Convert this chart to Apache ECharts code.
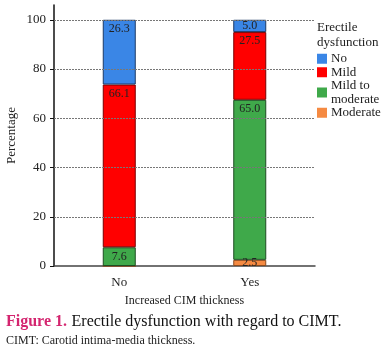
<!DOCTYPE html>
<html>
<head>
<meta charset="utf-8">
<script src="https://cdn.jsdelivr.net/npm/echarts@6/dist/echarts.min.js"></script>
<style>
  html, body { margin: 0; padding: 0; background: #fff; }
  #chart { width: 391px; height: 353px; }
</style>
</head>
<body>
<div id="chart"></div>
<script>
const categories = ['No', 'Yes'];
const moderate = [0, 2.5];
const mildToModerate = [7.6, 65.0];
const mild = [66.1, 27.5];
const noDysfunction = [26.3, 5.0];
const yTicks = [0, 20, 40, 60, 80, 100];

const serif = '"Liberation Serif", "DejaVu Serif", serif';

function bar(name, data, color, border) {
  return {
    name: name,
    type: 'bar',
    stack: 'total',
    barWidth: 33,
    z: 3,
    // small segments get their label centred, larger ones at the top
    data: data.map(v => v < 10 ? { value: v, label: { position: 'inside' } } : v),
    itemStyle: { color: color, borderColor: border, borderWidth: 1 },
    label: {
      show: true,
      position: 'insideTop',
      distance: 3,
      fontFamily: serif,
      fontSize: 12,
      color: '#222',
      formatter: p => p.value ? p.value.toFixed(1) : ''
    }
  };
}

const chart = echarts.init(document.getElementById('chart'));
chart.setOption({
  animation: false,
  textStyle: { fontFamily: serif },
  grid: { left: 54, right: 76, top: 5, bottom: 87, outerBoundsMode: 'none', containLabel: false },
  title: [{
    text: 'Erectile\ndysfunction',
    left: 317, top: 20,
    padding: 0,
    textStyle: { fontFamily: serif, fontSize: 13, fontWeight: 'normal', color: '#222', lineHeight: 15 }
  }, {
    text: '{a|Figure 1.} {b|Erectile dysfunction with regard to CIMT.}',
    left: 6, top: 313,
    padding: 0,
    textStyle: {
      fontWeight: 'normal',
      rich: {
        a: { fontFamily: serif, fontSize: 16, fontWeight: 'bold', color: '#d4256f' },
        b: { fontFamily: serif, fontSize: 16, fontWeight: 'normal', color: '#111' }
      }
    }
  }, {
    text: 'CIMT: Carotid intima-media thickness.',
    left: 6, top: 335,
    padding: 0,
    textStyle: { fontFamily: serif, fontSize: 12, fontWeight: 'normal', color: '#222' }
  }],
  legend: {
    orient: 'vertical',
    left: 317, top: 52,
    padding: 0,
    icon: 'rect',
    itemWidth: 10, itemHeight: 10,
    itemGap: 0,
    itemStyle: { borderWidth: 0 },
    data: ['No', 'Mild', 'Mild to moderate', 'Moderate'],
    formatter: n => n === 'Mild to moderate' ? 'Mild to\nmoderate' : n,
    textStyle: { fontFamily: serif, fontSize: 13, color: '#222', lineHeight: 13.5, padding: [0, 0, 0, -1] }
  },
  xAxis: {
    type: 'category',
    data: categories,
    name: 'Increased CIM thickness',
    nameLocation: 'middle',
    nameGap: 29,
    nameMoveOverlap: false,
    nameTextStyle: { fontFamily: serif, fontSize: 12, color: '#222' },
    axisLine: { lineStyle: { color: '#444', width: 1.5 } },
    axisTick: { show: false },
    axisLabel: { fontFamily: serif, fontSize: 13, color: '#222', margin: 10 }
  },
  yAxis: {
    type: 'value',
    min: 0, max: 106, interval: 20,
    name: 'Percentage',
    nameLocation: 'middle',
    nameGap: 36,
    nameMoveOverlap: false,
    nameTextStyle: { fontFamily: serif, fontSize: 13, color: '#222' },
    axisLine: { show: true, lineStyle: { color: '#111', width: 1.5 } },
    axisTick: { show: true, length: 4, customValues: yTicks, lineStyle: { color: '#111' } },
    axisLabel: { fontFamily: serif, fontSize: 13, color: '#222', margin: 8, customValues: yTicks },
    splitLine: { show: false }
  },
  series: [
    {
      name: 'grid',
      type: 'line',
      data: [],
      z: 1,
      silent: true,
      markLine: {
        silent: true,
        symbol: 'none',
        label: { show: false },
        lineStyle: { color: '#777', type: [2, 1], width: 1 },
        data: yTicks.slice(1).map(v => ({ yAxis: v }))
      }
    },
    bar('Moderate', moderate, '#f58a42', '#8a4a1e'),
    bar('Mild to moderate', mildToModerate, '#3fa94a', '#1e4d22'),
    bar('Mild', mild, '#ff0000', '#7a0000'),
    bar('No', noDysfunction, '#3a86e6', '#1d3a66')
  ]
});
</script>
</body>
</html>
